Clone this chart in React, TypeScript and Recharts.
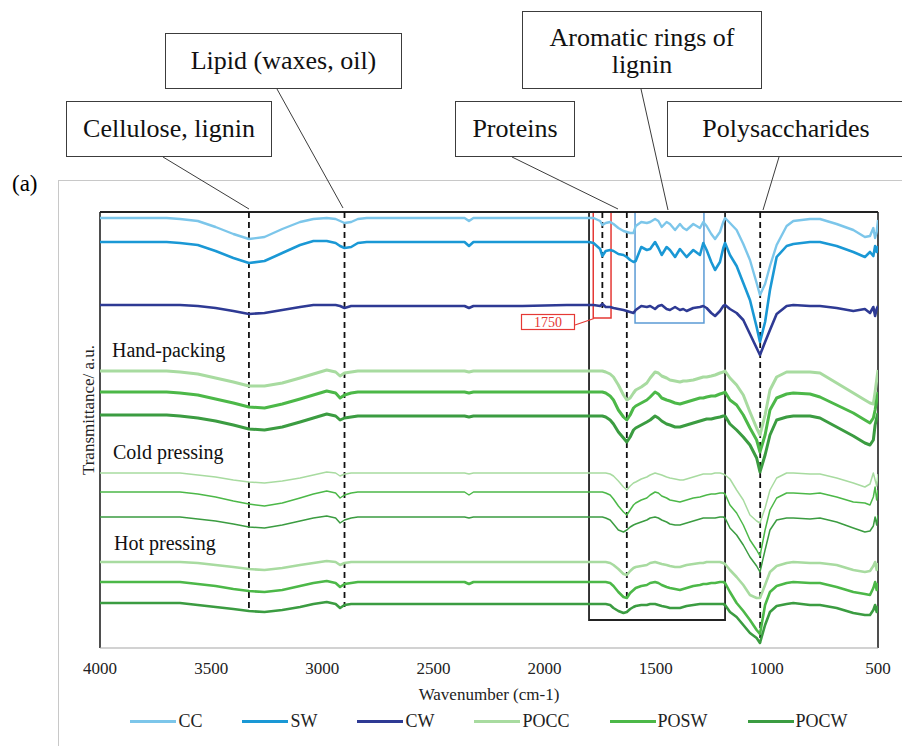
import { LineChart, Line, XAxis, YAxis, ReferenceLine, ReferenceArea } from "recharts";

// wavenumber grid (cm-1), values are transmittance in arbitrary units (stacked offsets)
const WAVENUMBER = [
  4000, 3900, 3800, 3700, 3640, 3560, 3480, 3400, 3330, 3260,
  3180, 3100, 3040, 2980, 2940, 2920, 2900, 2870, 2840, 2800,
  2600, 2400, 2360, 2340, 2320, 2100, 1900, 1800, 1780, 1750,
  1740, 1725, 1705, 1690, 1668, 1645, 1630, 1615, 1600, 1590,
  1565, 1540, 1525, 1503, 1488, 1473, 1451, 1436, 1413, 1391,
  1376, 1361, 1331, 1301, 1286, 1271, 1250, 1233, 1211, 1196,
  1188, 1166, 1136, 1106, 1076, 1046, 1031, 1008, 986, 956,
  911, 881, 806, 761, 686, 611, 559, 536, 521, 513,
  506, 500,
];

const CC = [
  782, 782, 782, 782, 781, 779, 773, 766, 761, 763,
  771, 778, 781, 782, 781, 779, 777, 778, 781, 782,
  782, 782, 782, 779, 782, 782, 782, 782, 782, 779,
  775, 777, 778, 776, 772, 769, 768, 767, 767, 774,
  778, 777, 778, 781, 779, 773, 778, 776, 770, 776,
  772, 770, 776, 772, 778, 774, 766, 761, 768, 778,
  782, 777, 770, 756, 740, 717, 705, 716, 734, 755,
  774, 779, 781, 781, 776, 770, 763, 764, 772, 762,
  768, 780,
];
const SW = [
  758, 758, 758, 758, 757, 755, 749, 742, 737, 739,
  747, 755, 759, 759, 757, 754, 752, 753, 757, 758,
  758, 758, 758, 754, 758, 758, 758, 758, 757, 751,
  744, 749, 750, 749, 746, 745, 743, 740, 738, 739,
  753, 750, 751, 758, 752, 745, 753, 750, 743, 751,
  747, 743, 750, 745, 757, 750, 738, 730, 738, 752,
  757, 745, 734, 717, 700, 673, 658, 678, 710, 743,
  754, 756, 758, 758, 754, 748, 743, 748, 744, 754,
  748, 754,
];
const CW = [
  695, 695, 695, 695, 695, 694, 692, 689, 686, 687,
  690, 693, 695, 695, 695, 694, 692, 694, 694, 694,
  694, 694, 694, 692, 694, 694, 695, 695, 695, 694,
  696, 693, 693, 692, 691, 690, 689, 688, 687, 690,
  694, 693, 694, 691, 694, 695, 691, 690, 693, 690,
  691, 689, 692, 693, 694, 692, 687, 684, 689, 694,
  695, 691, 687, 680, 666, 652, 645, 658, 670, 686,
  694, 695, 694, 694, 692, 689, 691, 687, 693, 684,
  691, 694,
];

// hand-packing
const POCC_HAND = [
  629, 629, 629, 629, 628, 626, 622, 618, 614, 614,
  617, 622, 626, 630, 628, 624, 627, 628, 629, 629,
  629, 629, 629, 628, 629, 629, 629, 629, 629, 629,
  629, 628, 626, 623, 615, 605, 600, 602, 607, 610,
  613, 617, 622, 628, 627, 624, 622, 620, 619, 618,
  619, 619, 620, 622, 623, 623, 624, 625, 627, 628,
  629, 622, 615, 605, 588, 572, 565, 585, 610, 623,
  628, 628, 628, 627, 617, 607, 600, 597, 596, 608,
  620, 630,
];
const POSW_HAND = [
  608, 608, 608, 608, 607, 605, 601, 597, 593, 592,
  596, 601, 605, 609, 607, 602, 605, 607, 608, 608,
  608, 608, 608, 607, 608, 608, 608, 608, 608, 608,
  608, 607, 604, 600, 590, 583, 580, 585, 592, 594,
  597, 600, 603, 608, 606, 602, 600, 599, 597, 596,
  597, 598, 600, 602, 602, 603, 604, 604, 606, 607,
  608, 600, 595, 585, 572, 560, 548, 565, 590, 602,
  606, 607, 606, 603, 595, 587, 580, 577, 582, 590,
  600, 608,
];
const POCW_HAND = [
  585, 585, 585, 585, 584, 582, 579, 575, 571, 570,
  573, 578, 582, 586, 584, 580, 582, 583, 584, 584,
  584, 584, 584, 583, 584, 584, 584, 584, 584, 584,
  584, 583, 580, 576, 568, 562, 558, 563, 570, 572,
  575, 578, 580, 584, 582, 579, 576, 575, 573, 573,
  574, 575, 577, 579, 580, 581, 581, 582, 583, 584,
  584, 576, 570, 563, 555, 542, 528, 545, 565, 580,
  583, 584, 584, 582, 573, 564, 557, 555, 560, 575,
  582, 587,
];

// cold pressing
const POCC_COLD = [
  527, 527, 527, 527, 527, 525, 523, 520, 518, 517,
  519, 522, 525, 528, 527, 524, 526, 527, 527, 527,
  527, 527, 527, 526, 527, 527, 527, 527, 527, 527,
  527, 527, 526, 524, 519, 513, 510, 514, 517, 518,
  521, 523, 525, 527, 526, 525, 523, 522, 521, 520,
  520, 521, 523, 525, 526, 526, 526, 527, 527, 526,
  525, 521, 510, 500, 485, 479, 477, 492, 510, 522,
  527, 527, 526, 526, 522, 517, 513, 516, 527, 520,
  514, 526,
];
const POSW_COLD = [
  508, 508, 508, 508, 508, 506, 503, 499, 496, 494,
  497, 502, 506, 509, 507, 502, 505, 507, 508, 508,
  508, 508, 508, 505, 508, 508, 508, 508, 508, 508,
  508, 507, 505, 501, 494, 488, 485, 490, 495, 497,
  500, 502, 505, 508, 507, 504, 502, 500, 499, 498,
  499, 500, 502, 503, 504, 505, 506, 506, 507, 507,
  506, 495, 487, 475, 460, 450, 444, 470, 490, 502,
  507, 507, 506, 507, 503, 498, 497, 495, 503, 513,
  500, 510,
];
const POCW_COLD = [
  483, 483, 483, 483, 483, 481, 479, 476, 473, 472,
  475, 479, 482, 484, 482, 477, 480, 482, 483, 483,
  483, 483, 483, 482, 483, 483, 483, 483, 483, 483,
  483, 482, 480, 476, 470, 468, 470, 473, 475, 476,
  478, 480, 482, 483, 482, 480, 478, 476, 475, 475,
  476, 477, 479, 481, 482, 482, 482, 482, 483, 483,
  482, 472, 465, 455, 443, 434, 428, 450, 470, 480,
  482, 482, 481, 482, 478, 472, 468, 469, 474, 483,
  475, 485,
];

// hot pressing
const POCC_HOT = [
  438, 438, 438, 438, 438, 437, 435, 433, 431, 430,
  432, 435, 437, 439, 438, 435, 437, 438, 438, 438,
  438, 438, 438, 438, 438, 438, 438, 438, 438, 438,
  438, 438, 437, 435, 431, 426, 425, 429, 432, 433,
  434, 435, 437, 438, 437, 436, 435, 434, 433, 433,
  434, 435, 436, 437, 437, 438, 438, 438, 438, 437,
  436, 430, 423, 415, 405, 402, 402, 415, 428, 434,
  437, 438, 437, 437, 435, 430, 428, 429, 434, 438,
  430, 437,
];
const POSW_HOT = [
  418, 418, 418, 418, 418, 416, 414, 411, 409, 408,
  410, 414, 417, 419, 417, 413, 416, 417, 418, 418,
  418, 418, 418, 416, 418, 418, 418, 418, 418, 418,
  418, 418, 417, 414, 408, 403, 402, 407, 410, 412,
  414, 415, 417, 418, 417, 415, 413, 412, 411, 410,
  411, 412, 414, 415, 416, 416, 417, 417, 418, 418,
  417, 408, 397, 389, 380, 370, 366, 395, 408, 414,
  417, 418, 417, 417, 413, 408, 406, 405, 412, 418,
  410, 417,
];
const POCW_HOT = [
  397, 397, 397, 397, 397, 395, 393, 391, 389, 388,
  390, 393, 396, 398, 396, 392, 395, 396, 396, 396,
  396, 396, 396, 396, 396, 396, 396, 396, 396, 396,
  396, 396, 395, 392, 389, 387, 388, 391, 393, 394,
  395, 395, 396, 396, 395, 394, 393, 392, 392, 392,
  393, 394, 395, 396, 396, 396, 396, 396, 396, 396,
  395, 388, 383, 375, 367, 362, 357, 375, 388, 394,
  396, 397, 395, 395, 392, 387, 385, 385, 390, 395,
  388, 394,
];

const X_TICKS = [4000, 3500, 3000, 2500, 2000, 1500, 1000, 500];
const LEGEND_NAMES = ["CC", "SW", "CW", "POCC", "POSW", "POCW"];

// marked bands (cm-1)
const BAND_LINES = [3330, 2900, 1630, 1030];
const BAND_ENDS = [388, 393, 387, 357];
const PEAK_1750 = 1740;

const COLORS: Record<string, string> = {
  CC: "#7cc6ea",
  SW: "#1a98d5",
  CW: "#2e3a94",
  POCC: "#a8dba0",
  POSW: "#4cb848",
  POCW: "#3b9c41",
};

const SERIES = [
  { key: "CC", values: CC, color: COLORS.CC, width: 2.4 },
  { key: "SW", values: SW, color: COLORS.SW, width: 2.6 },
  { key: "CW", values: CW, color: COLORS.CW, width: 2.6 },
  { key: "POCC_HAND", values: POCC_HAND, color: COLORS.POCC, width: 3 },
  { key: "POSW_HAND", values: POSW_HAND, color: COLORS.POSW, width: 3 },
  { key: "POCW_HAND", values: POCW_HAND, color: COLORS.POCW, width: 3 },
  { key: "POCC_COLD", values: POCC_COLD, color: COLORS.POCC, width: 1.5 },
  { key: "POSW_COLD", values: POSW_COLD, color: COLORS.POSW, width: 1.5 },
  { key: "POCW_COLD", values: POCW_COLD, color: COLORS.POCW, width: 1.5 },
  { key: "POCC_HOT", values: POCC_HOT, color: COLORS.POCC, width: 2.6 },
  { key: "POSW_HOT", values: POSW_HOT, color: COLORS.POSW, width: 2.6 },
  { key: "POCW_HOT", values: POCW_HOT, color: COLORS.POCW, width: 2.6 },
];

const data = WAVENUMBER.map((wn, i) => {
  const row: Record<string, number> = { wn };
  SERIES.forEach((s) => {
    row[s.key] = s.values[i];
  });
  return row;
});

const FONT = "'Liberation Serif', 'Times New Roman', serif";
const Y_MIN = 352;
const Y_MAX = 788;

const Callouts = () => (
  <svg
    width={902}
    height={746}
    style={{ position: "absolute", left: 0, top: 0, pointerEvents: "none" }}
    fontFamily={FONT}
  >
    {/* outer frame */}
    <line x1={58} y1={180.5} x2={902} y2={180.5} stroke="#c8c8c8" />
    <line x1={58.5} y1={180} x2={58.5} y2={746} stroke="#c8c8c8" />
    <text x={12} y={191} fontSize={23} fill="#000">(a)</text>

    {/* annotation boxes */}
    <g stroke="#3c3c3c" strokeWidth={1} fill="#fff">
      <rect x={66.5} y={101.5} width={205} height={55} />
      <rect x={165.5} y={33.5} width={236} height={55} />
      <rect x={455.5} y={101.5} width={119} height={55} />
      <rect x={522.5} y={11.5} width={239} height={77} />
      <rect x={667.5} y={101.5} width={260} height={55} />
    </g>
    <g stroke="#3c3c3c" strokeWidth={1}>
      <line x1={163} y1={157} x2={249} y2={209} />
      <line x1={277} y1={89} x2={343} y2={208} />
      <line x1={512} y1={157} x2={618} y2={209} />
      <line x1={641} y1={89} x2={668} y2={210} />
      <line x1={779} y1={157} x2={763} y2={210} />
    </g>
    <g fontSize={26} fill="#111" textAnchor="middle">
      <text x={169} y={137}>Cellulose, lignin</text>
      <text x={283.5} y={69}>Lipid (waxes, oil)</text>
      <text x={515} y={137}>Proteins</text>
      <text x={642} y={46}>Aromatic rings of</text>
      <text x={642} y={73}>lignin</text>
      <text x={786} y={137}>Polysaccharides</text>
    </g>

    {/* 1750 tag */}
    <rect x={521.5} y={314.5} width={53} height={15} fill="#fff" stroke="#e53935" strokeWidth={1.2} />
    <line x1={575} y1={325} x2={594} y2={318.5} stroke="#e53935" strokeWidth={1.2} />
    <text x={548} y={327} fontSize={14} fill="#e53935" textAnchor="middle">1750</text>

    {/* group labels */}
    <g fontSize={20} fill="#111">
      <text x={112} y={357}>Hand-packing</text>
      <text x={113} y={459}>Cold pressing</text>
      <text x={114} y={550}>Hot pressing</text>
    </g>

    <text
      x={88}
      y={410}
      fontSize={17}
      fill="#222"
      textAnchor="middle"
      dominantBaseline="central"
      transform="rotate(-90 88 410)"
    >
      Transmittance/ a.u.
    </text>
    <text x={489} y={700} fontSize={17} fill="#222" textAnchor="middle">
      Wavenumber (cm-1)
    </text>
  </svg>
);

const App = () => {
  return (
    <div style={{ position: "absolute", left: 0, top: 0, width: 902, height: 746, background: "#fff" }}>
      <LineChart
        width={902}
        height={746}
        data={data}
        margin={{ top: 212, right: 24, left: 100, bottom: 68 }}
      >
        <XAxis
          dataKey="wn"
          type="number"
          domain={[500, 4000]}
          reversed
          ticks={X_TICKS}
          height={30}
          tickLine={false}
          tickSize={6}
          tickMargin={8}
          axisLine={{ stroke: "#a6a6a6", strokeWidth: 1.2 }}
          tick={{ fontSize: 17, fill: "#222", fontFamily: FONT }}
          allowDataOverflow
        />
        <YAxis type="number" domain={[Y_MIN, Y_MAX]} hide width={0} allowDataOverflow />

        <ReferenceArea x1={1800} x2={1188} y1={380} y2={Y_MAX} fill="none" stroke="#222" strokeWidth={1.8} />
        <ReferenceArea x1={1781} x2={1701} y1={682} y2={Y_MAX} fill="none" stroke="#e53935" strokeWidth={1.5} />
        <ReferenceArea x1={1593} x2={1283} y1={677} y2={Y_MAX} fill="none" stroke="#5b9bd5" strokeWidth={1.5} />

        <ReferenceLine x={4000} stroke="#222" strokeWidth={1.6} />
        <ReferenceLine x={500} stroke="#222" strokeWidth={1.6} />
        <ReferenceLine y={Y_MAX} stroke="#222" strokeWidth={2} />

        {BAND_LINES.map((wn, i) => (
          <ReferenceLine
            key={wn}
            segment={[{ x: wn, y: Y_MAX }, { x: wn, y: BAND_ENDS[i] }]}
            stroke="#111"
            strokeWidth={1.8}
            strokeDasharray="6 4"
          />
        ))}
        <ReferenceLine
          segment={[{ x: PEAK_1750, y: Y_MAX }, { x: PEAK_1750, y: 690 }]}
          stroke="#111"
          strokeWidth={1.8}
          strokeDasharray="6 4"
        />

        {SERIES.map((s) => (
          <Line
            key={s.key}
            dataKey={s.key}
            type="linear"
            stroke={s.color}
            strokeWidth={s.width}
            dot={false}
            activeDot={false}
            strokeLinejoin="round"
            isAnimationActive={false}
          />
        ))}
      </LineChart>

      <Callouts />

      <div
        style={{
          position: "absolute",
          left: 100,
          top: 711,
          width: 778,
          display: "flex",
          justifyContent: "center",
          gap: 40,
          fontFamily: FONT,
          fontSize: 18,
          color: "#222",
        }}
      >
        {LEGEND_NAMES.map((name) => (
          <div key={name} style={{ display: "flex", alignItems: "center" }}>
            <span style={{ display: "inline-block", width: 46, height: 3, background: COLORS[name], marginRight: 2 }} />
            <span>{name}</span>
          </div>
        ))}
      </div>
    </div>
  );
};

export default App;
